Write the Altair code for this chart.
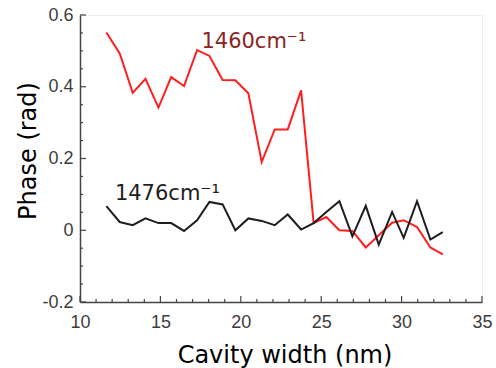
import altair as alt
import pandas as pd

# Cavity width (nm) for each sample
x_nm = [11.64, 12.47, 13.28, 14.07, 14.88, 15.67, 16.47, 17.28, 18.05, 18.87,
        19.66, 20.47, 21.30, 22.11, 22.92, 23.75, 24.53, 25.32, 26.13, 26.94,
        27.77, 28.58, 29.41, 30.13, 30.96, 31.79, 32.56]

# Phase (rad) at 1460 cm-1 (red)
phase_1460 = [0.551, 0.493, 0.383, 0.422, 0.342, 0.427, 0.402, 0.502, 0.486, 0.419,
              0.418, 0.382, 0.190, 0.281, 0.281, 0.390, 0.020, 0.037, 0.000, -0.002,
              -0.048, -0.014, 0.021, 0.028, 0.009, -0.048, -0.067]

# Phase (rad) at 1476 cm-1 (black)
phase_1476 = [0.067, 0.023, 0.014, 0.033, 0.020, 0.020, -0.002, 0.028, 0.079, 0.072,
              0.000, 0.033, 0.026, 0.014, 0.044, 0.002, 0.020, 0.051, 0.081, -0.017,
              0.068, -0.040, 0.051, -0.021, 0.081, -0.026, -0.005]

series_names = ["1460cm⁻¹", "1476cm⁻¹"]
series_colors = ["#ff1e1e", "#1e1e1e"]
label_colors = ["#8c2424", "#1e1e1e"]
label_x = [17.55, 12.17]
label_y = [0.507, 0.084]

x_major = [10, 15, 20, 25, 30, 35]
x_minor = [11, 12, 13, 14, 16, 17, 18, 19, 21, 22, 23, 24, 26, 27, 28, 29, 31, 32, 33, 34]
y_major = [-0.2, 0, 0.2, 0.4, 0.6]
y_minor = [-0.15, -0.1, -0.05, 0.05, 0.1, 0.15, 0.25, 0.3, 0.35, 0.45, 0.5, 0.55]

W, H = 402, 287
AX = "#444444"

df = pd.DataFrame({
    "x": x_nm * 2,
    "y": phase_1460 + phase_1476,
    "series": [series_names[0]] * len(x_nm) + [series_names[1]] * len(x_nm),
})

xs = alt.Scale(domain=[10, 35], nice=False, zero=False)
ys = alt.Scale(domain=[-0.2, 0.6], nice=False, zero=False)

x_axis = alt.Axis(
    values=x_major, title="Cavity width (nm)", grid=False,
    tickSize=0, tickColor="#ffffff00", labelPadding=25, labelBaseline="alphabetic",
    labelFlush=False,
    labelFont="Liberation Sans", labelFontSize=18, labelColor="#3c3c3c",
    domainColor=AX, domainWidth=1.5,
    titleFont="DejaVu Sans", titleFontSize=24, titleFontWeight="normal",
    titleColor="#000000", titleX=204.5, titleY=60, titleBaseline="alphabetic",
    titleAlign="center")
y_axis = alt.Axis(
    values=y_major, title="Phase (rad)", grid=False,
    tickSize=0, tickColor="#ffffff00", labelPadding=7, labelBaseline="middle",
    labelFlush=False,
    labelExpr="toString(datum.value)",
    labelFont="Liberation Sans", labelFontSize=18, labelColor="#3c3c3c",
    domainColor=AX, domainWidth=1.5,
    titleFont="DejaVu Sans", titleFontSize=24, titleFontWeight="normal",
    titleColor="#000000", titleX=-45, titleY=135.5, titleAngle=-90,
    titleBaseline="alphabetic", titleAlign="center")

X = lambda f: alt.X(f, scale=xs, axis=x_axis)
Y = lambda f: alt.Y(f, scale=ys, axis=y_axis)

lines = alt.Chart(df).mark_line(strokeWidth=2).encode(
    x=X("x:Q"), y=Y("y:Q"),
    color=alt.Color("series:N", scale=alt.Scale(domain=series_names, range=series_colors), legend=None),
)

def label(i):
    d = pd.DataFrame({"x": [label_x[i]], "y": [label_y[i]], "t": [series_names[i]]})
    return alt.Chart(d).mark_text(
        align="left", baseline="alphabetic", font="DejaVu Sans", fontSize=21,
        color=label_colors[i]).encode(x=X("x:Q"), y=Y("y:Q"), text="t:N")

main = alt.layer(lines, label(0), label(1))

def xticks(vals, length):
    return alt.Chart(pd.DataFrame({"tx": vals})).mark_rule(color=AX, strokeWidth=1.2).encode(
        x=alt.X("tx:Q", scale=xs, axis=None),
        y=alt.value(H), y2=alt.value(H - length))

def yticks(vals, length):
    return alt.Chart(pd.DataFrame({"ty": vals})).mark_rule(color=AX, strokeWidth=1.2).encode(
        y=alt.Y("ty:Q", scale=ys, axis=None),
        x=alt.value(0), x2=alt.value(length))

ticks = alt.layer(xticks(x_major, 6), xticks(x_minor, 3), yticks(y_major, 6), yticks(y_minor, 3))

chart = alt.layer(main, ticks).resolve_axis(
    x="independent", y="independent"
).properties(
    width=W, height=H,
    autosize=alt.AutoSizeParams(type="none"),
    padding={"left": 80, "top": 15, "right": 14, "bottom": 66},
    background="white",
).configure_view(stroke="#eeeeee", strokeWidth=1)

chart.save("out.html", embed_options={"renderer": "svg", "actions": False})
